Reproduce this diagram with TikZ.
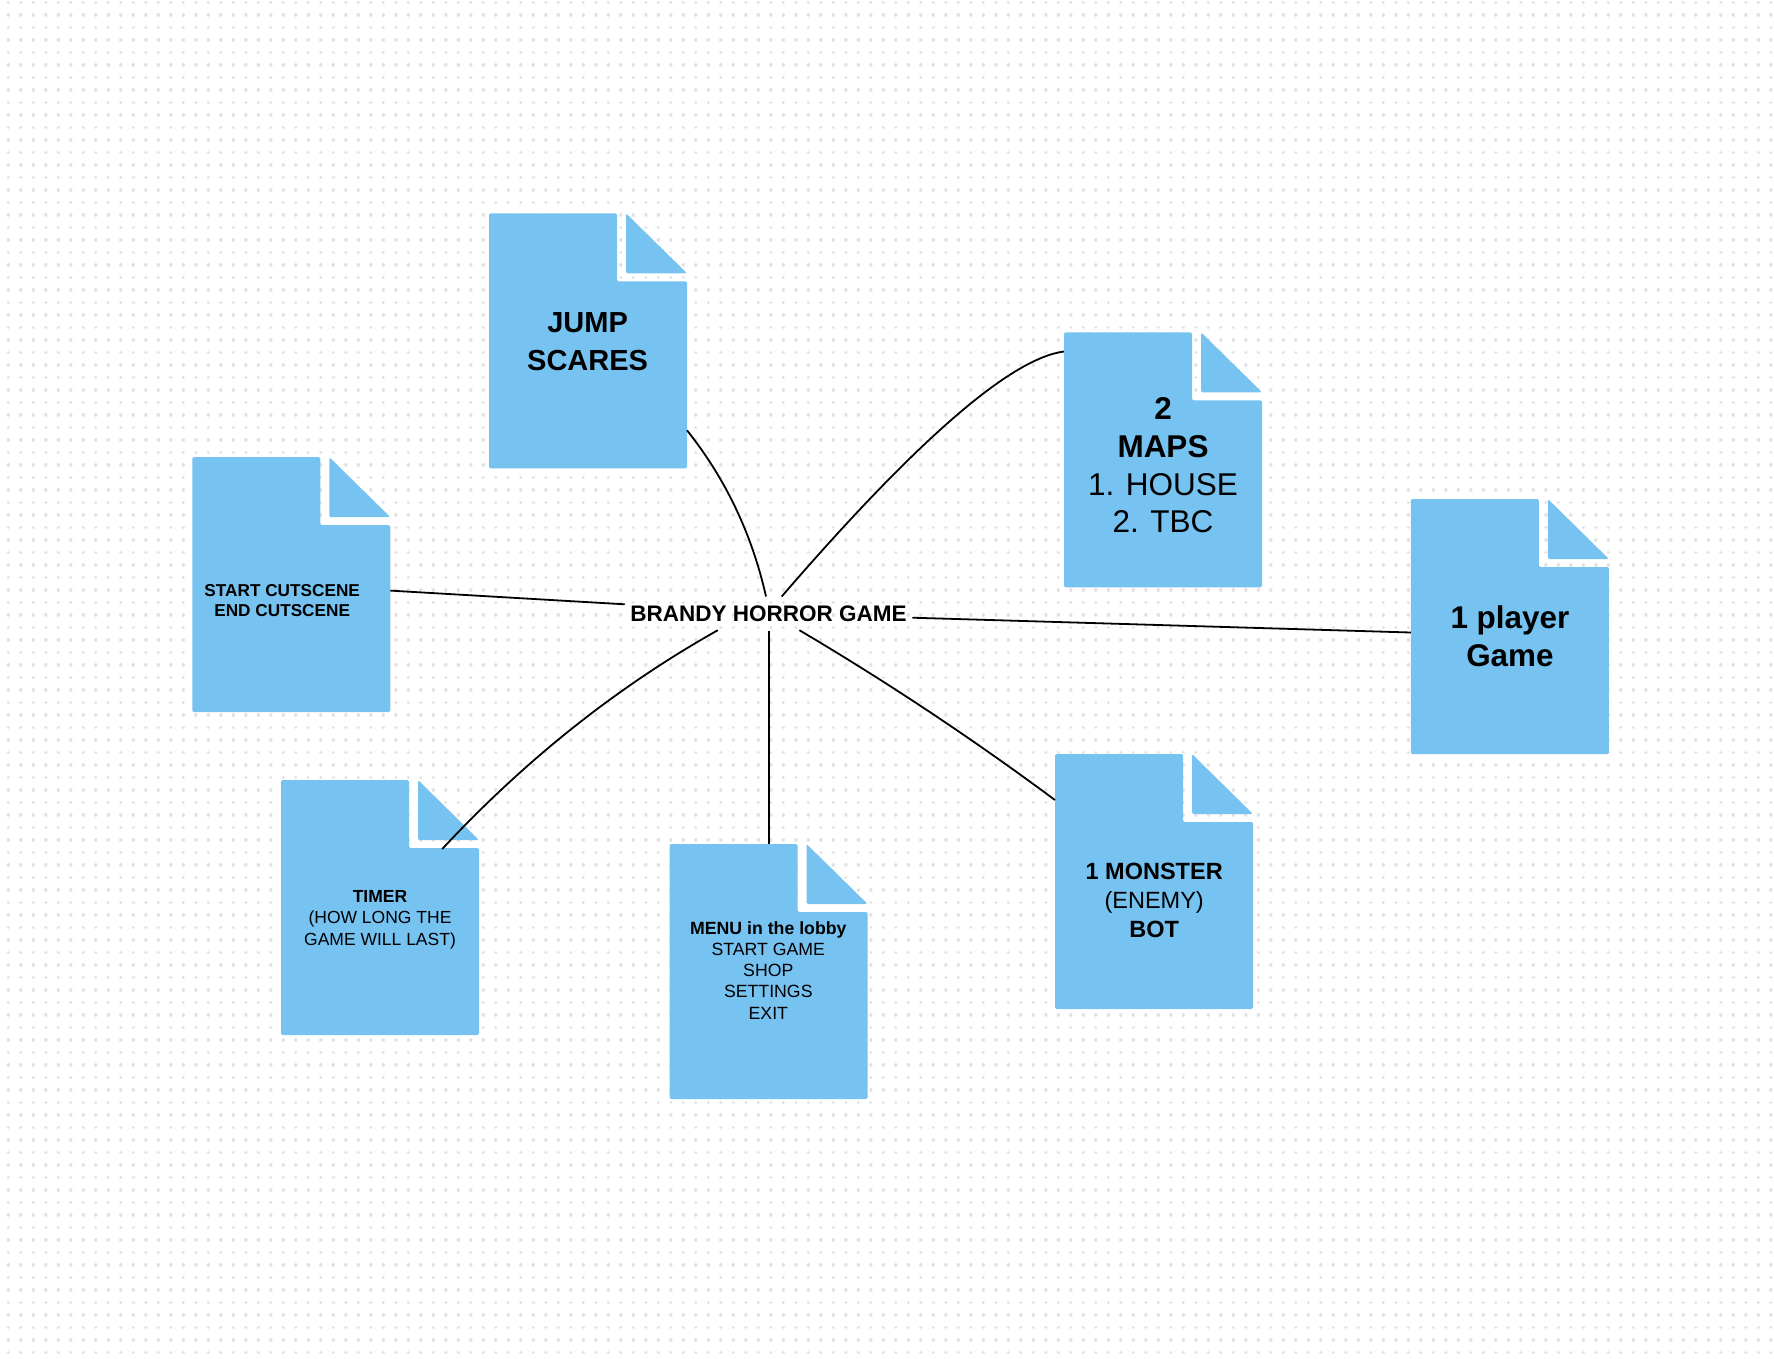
\documentclass[tikz,border=0pt]{standalone}
\usepackage{fontspec}
\setmainfont{Liberation Sans}
\usetikzlibrary{calc}
\definecolor{docblue}{RGB}{118,194,240}
\definecolor{dotgray}{RGB}{226,226,226}
\newcommand\docshape[3]{%
  \node[boxarea] (#1) at ($(#2,#3)+(99,127.5)$) {};
  \fill[docfill] (#1.north west) -- ++(128,0) -- ++(0,68) -- ++(70,0) -- (#1.south east) -- (#1.south west) -- cycle;
  \fill[docfill] ($(#1.north east)+(-61,0)$) -- ++(0,60) -- ++(61,0) -- cycle;
}
\begin{document}
\begin{tikzpicture}[x=1pt,y=-1pt,
  boxarea/.style={minimum width=198pt, minimum height=255pt, inner sep=0pt, outer sep=0pt},
  docfill/.style={fill=docblue, rounded corners=1.5pt},
  conn/.style={draw=black, line width=1.8pt},
  dotrow/.style={draw=dotgray, line width=3.4pt, line cap=round, dash pattern=on 0.01pt off 12.49pt},
  txt/.style={align=center, inner sep=0pt, text=black}]
\fill[white] (0,0) rectangle (1774,1358);
\useasboundingbox (0,0) rectangle (1774,1358);
\foreach \k in {0,...,108} {\draw[dotrow] (8.3,{2.3+12.5*\k}) -- (1774,{2.3+12.5*\k});}
% boxes
\docshape{jump}{489}{213.3}
\docshape{cut}{192.3}{457.1}
\docshape{maps}{1064}{332.3}
\docshape{player}{1410.9}{499}
\docshape{timer}{281}{780}
\docshape{menu}{669.6}{844}
\docshape{monster}{1055}{754}
% hub
\node[txt, minimum width=287.3pt, minimum height=34pt, font=\bfseries\fontsize{22.5}{27}\selectfont] (hub) at (768.6,613.7) {BRANDY HORROR GAME};
% connectors
\draw[conn] ($(jump.north east)+(0,217)$) .. controls (725.6,478.8) and (752,534.2) .. ($(hub.north)+(-2.6,0)$);
\draw[conn] ($(hub.north)+(13.1,0)$) .. controls (916.7,440.1) and (1010.8,358.4) .. ($(maps.north west)+(0,19.2)$);
\draw[conn] ($(cut.north east)+(0,133.5)$) -- ($(hub.west)+(0,-9.4)$);
\draw[conn] ($(hub.east)+(0,4)$) -- ($(player.north west)+(0,133.5)$);
\draw[conn] ($(hub.south)+(-50.8,-0.7)$) .. controls (617.3,686.7) and (525.4,759.7) .. ($(timer.north west)+(161.2,69)$);
\draw[conn] (hub.south) -- (menu.north);
\draw[conn] ($(hub.south)+(30.8,-0.7)$) .. controls (887.4,682.2) and (972.6,738.9) .. ($(monster.north west)+(0,46)$);
% texts
\node[txt, font=\bfseries\fontsize{29}{38.5}\selectfont] (jumptxt) at (587.6,341.7) {JUMP\\SCARES};
\node[txt, font=\bfseries\fontsize{17.2}{20}\selectfont] (cuttxt) at (282.2,600.8) {START CUTSCENE\\END CUTSCENE};
\node[txt, font=\fontsize{31.5}{37.8}\selectfont] (mapstxt) at (1163,465.3) {\textbf{2}\\\textbf{MAPS}\\1. HOUSE\\2. TBC};
\node[txt, font=\bfseries\fontsize{31.4}{38.5}\selectfont] (playertxt) at (1509.9,636.4) {1 player\\Game};
\node[txt, font=\fontsize{17.5}{21.2}\selectfont] (timertxt) at (380,919.7) {\textbf{TIMER}\\(HOW LONG THE\\GAME WILL LAST)};
\node[txt, font=\fontsize{17.7}{21.2}\selectfont] (menutxt) at (768.3,970.3) {\textbf{MENU in the lobby}\\START GAME\\SHOP\\SETTINGS\\EXIT};
\node[txt, font=\fontsize{23.5}{29}\selectfont] (monstertxt) at (1154.2,900.2) {\textbf{1 MONSTER}\\(ENEMY)\\\textbf{BOT}};
\end{tikzpicture}
\end{document}
